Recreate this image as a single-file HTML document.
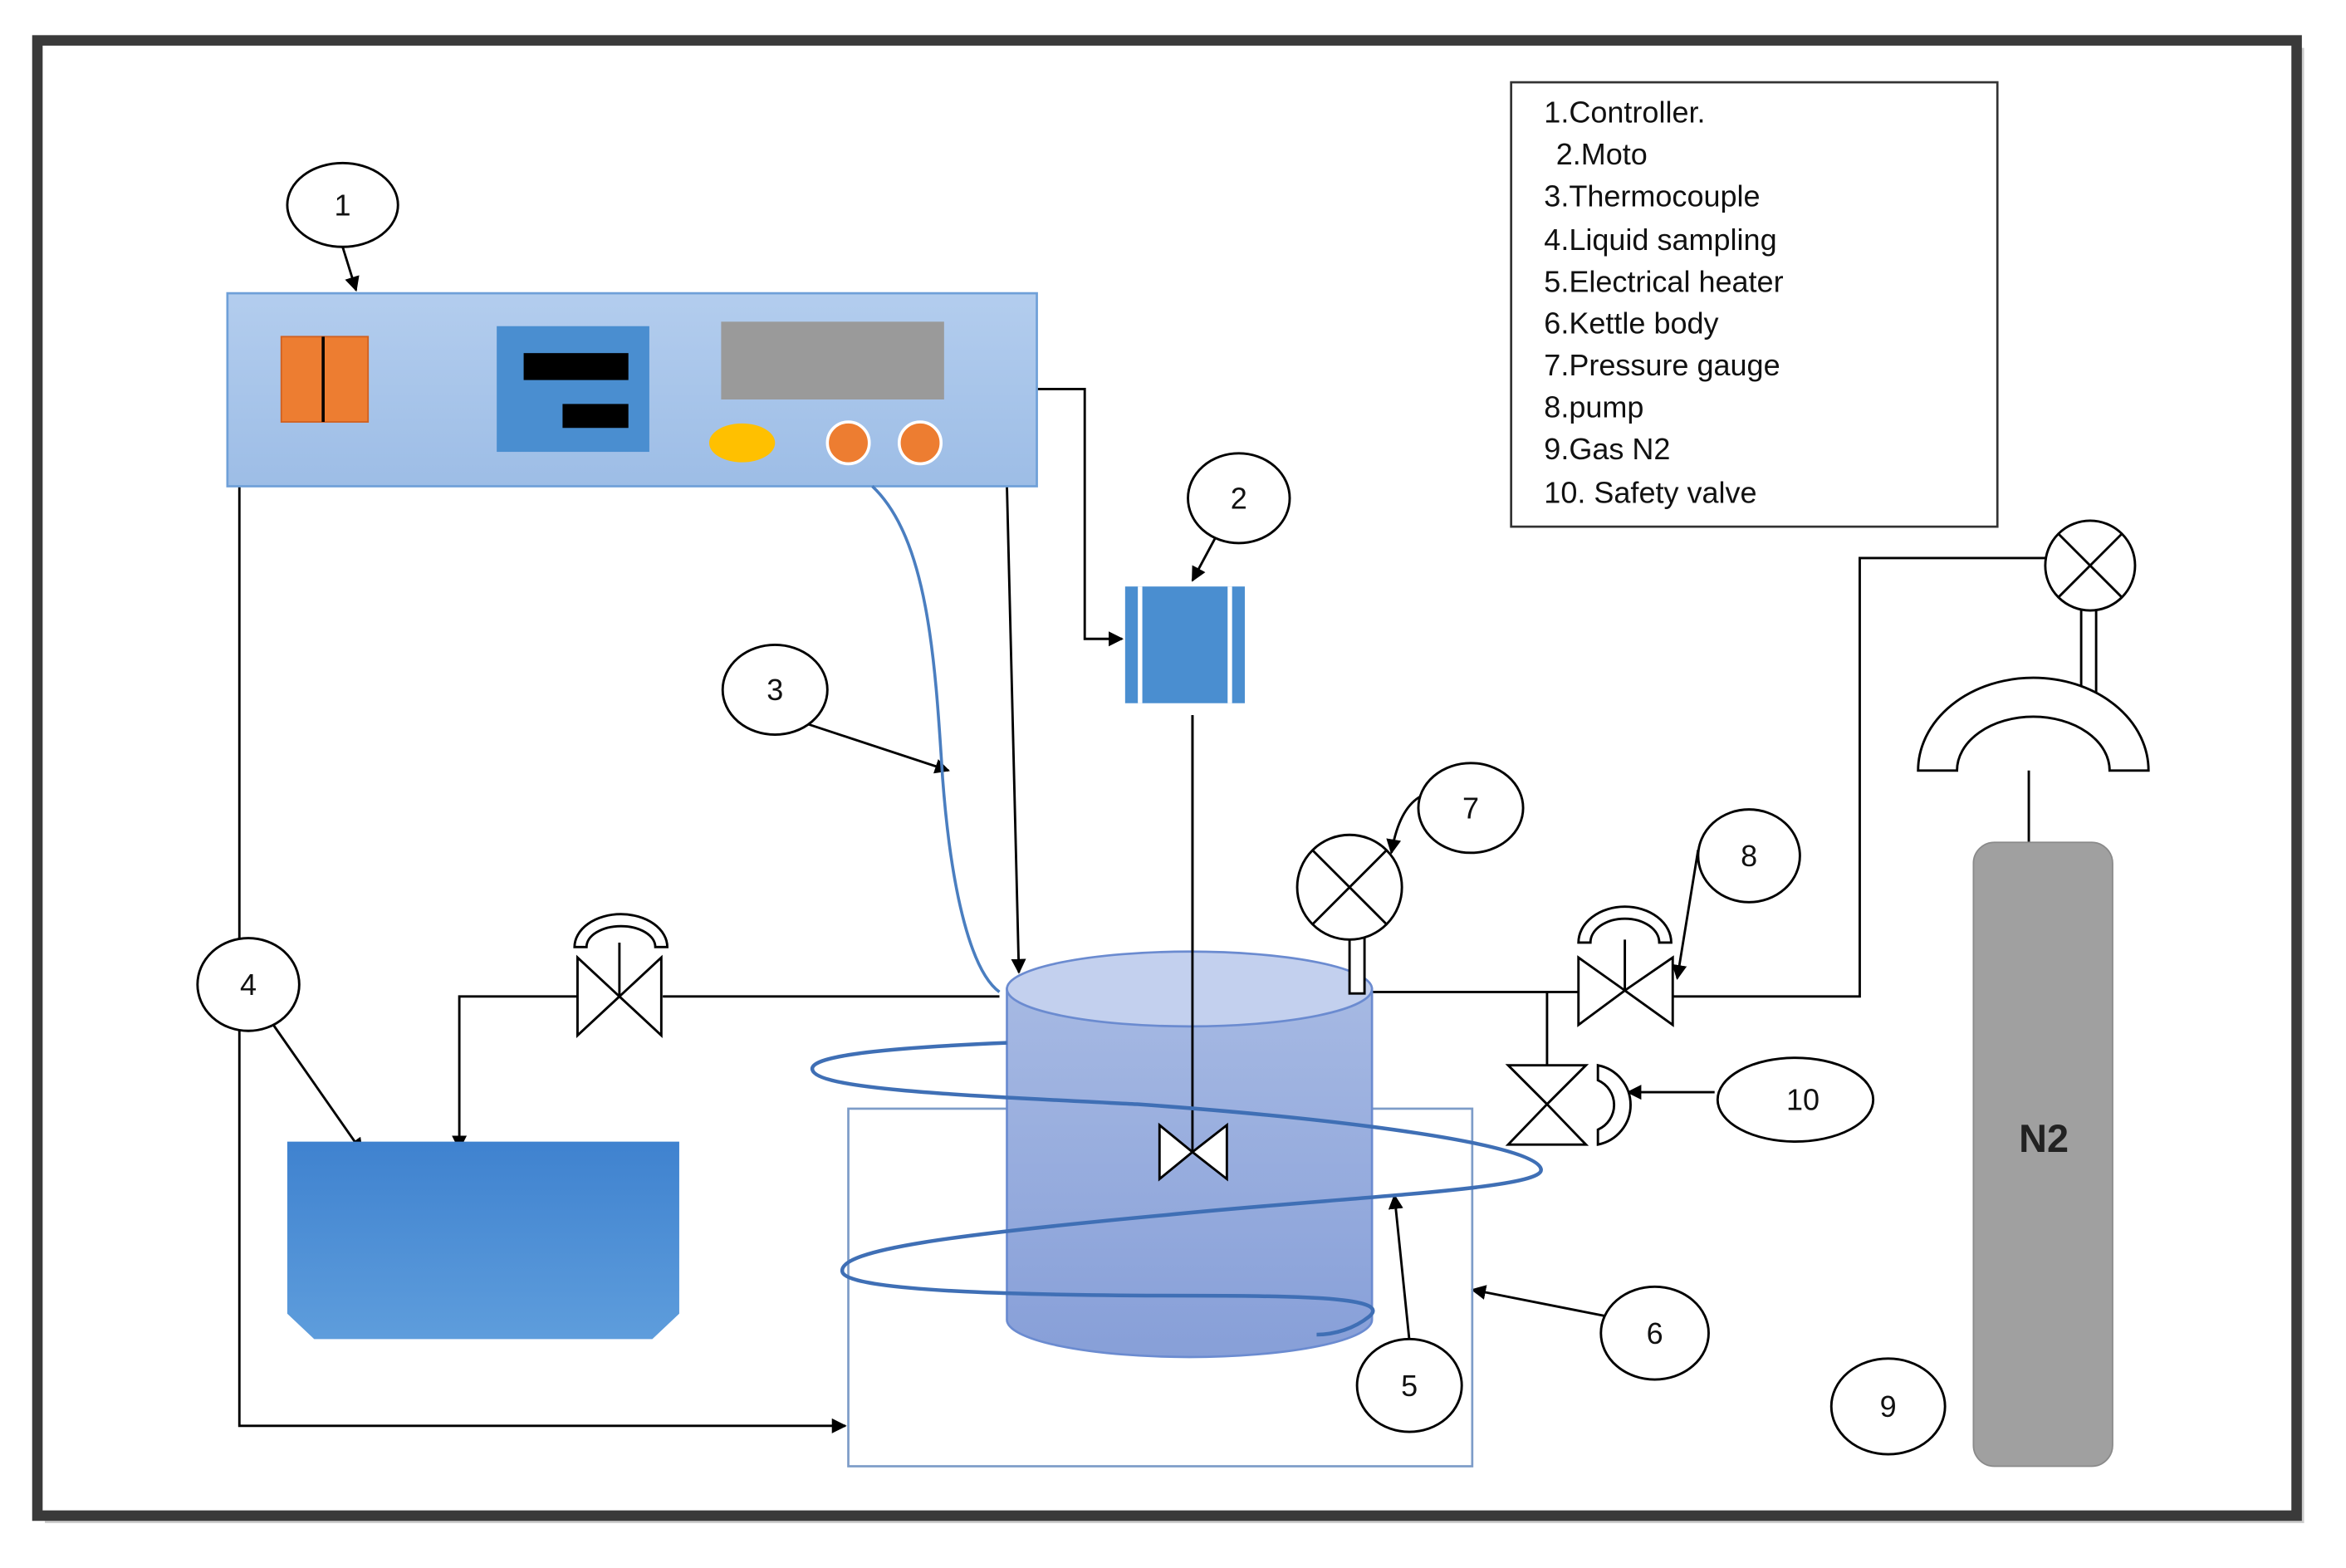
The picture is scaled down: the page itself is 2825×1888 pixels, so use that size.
<!DOCTYPE html>
<html><head><meta charset="utf-8"><style>html,body{margin:0;padding:0;background:#fff}svg{display:block}text{font-family:"Liberation Sans",sans-serif}</style></head>
<body>
<svg width="2825" height="1888" viewBox="0 0 1568 1048" preserveAspectRatio="none" xmlns="http://www.w3.org/2000/svg">
<defs>
<marker id="a" markerWidth="10" markerHeight="10" refX="9" refY="5" orient="auto" markerUnits="userSpaceOnUse"><path d="M0,0 L10,5 L0,10 z" fill="#000"/></marker>
<linearGradient id="cb" x1="0" y1="0" x2="0" y2="1"><stop offset="0" stop-color="#b3cdee"/><stop offset="1" stop-color="#9dbde6"/></linearGradient>
<linearGradient id="tk" x1="0" y1="0" x2="0" y2="1"><stop offset="0" stop-color="#3f82cf"/><stop offset="1" stop-color="#5e9ddc"/></linearGradient>
<linearGradient id="cy" x1="0" y1="0" x2="0" y2="1"><stop offset="0" stop-color="#a6b9e3"/><stop offset="1" stop-color="#879fd8"/></linearGradient>
</defs>
<rect x="0" y="0" width="1568" height="1048" fill="#fff"/>
<rect x="30" y="32" width="1510" height="986" fill="#ccc"/>
<rect x="25" y="27" width="1510" height="986" fill="#fff" stroke="#3a3a3a" stroke-width="7"/>
<rect x="1010" y="55" width="325" height="297" fill="#fff" stroke="#333" stroke-width="1.5"/>
<g font-size="20" fill="#111">
<text x="1032" y="82">1.Controller.</text>
<text x="1040" y="110">2.Moto</text>
<text x="1032" y="138">3.Thermocouple</text>
<text x="1032" y="167">4.Liquid sampling</text>
<text x="1032" y="195">5.Electrical heater</text>
<text x="1032" y="223">6.Kettle body</text>
<text x="1032" y="251">7.Pressure gauge</text>
<text x="1032" y="279">8.pump</text>
<text x="1032" y="307">9.Gas N2</text>
<text x="1032" y="336">10.  Safety valve</text>
</g>
<g stroke="#000" stroke-width="1.6" fill="none">
<path d="M693,260 H725 V427 H750" marker-end="url(#a)"/>
<path d="M673,325 L681,650" marker-end="url(#a)"/>
<path d="M160,325 V953 H565" marker-end="url(#a)"/>
<path d="M229,165 L238,194" marker-end="url(#a)"/>
<path d="M812,360 L797,388" marker-end="url(#a)"/>
<path d="M540,484 L634,515" marker-end="url(#a)"/>
<path d="M182,684 L242,770" marker-end="url(#a)"/>
<path d="M668,666 H443"/>
<path d="M386,666 H307 V768" marker-end="url(#a)"/>
<path d="M797,478 V770"/>
<path d="M942,896 L932,799" marker-end="url(#a)"/>
<path d="M1075,880 L984,862" marker-end="url(#a)"/>
<path d="M950,532 Q935,540 930,570" marker-end="url(#a)"/>
<path d="M1135,568 L1121,654" marker-end="url(#a)"/>
<path d="M1146,730 L1088,730" marker-end="url(#a)"/>
<path d="M912,663 H1055"/>
<path d="M1118,666 H1243 V373 H1368"/>
<path d="M1356,515 V563"/>
<path d="M1034,663 V712"/>
</g>
<rect x="152" y="196" width="541" height="129" fill="url(#cb)" stroke="#6fa0d8" stroke-width="1.5"/>
<rect x="188" y="225" width="58" height="57" fill="#ed7d31" stroke="#d06020"/>
<line x1="216" y1="225" x2="216" y2="282" stroke="#000" stroke-width="2"/>
<rect x="332" y="218" width="102" height="84" fill="#4a8ed0"/>
<rect x="350" y="236" width="70" height="18" fill="#000"/>
<rect x="376" y="270" width="44" height="16" fill="#000"/>
<rect x="482" y="215" width="149" height="52" fill="#9a9a9a"/>
<ellipse cx="496" cy="296" rx="22" ry="13" fill="#ffc000"/>
<circle cx="567" cy="296" r="14" fill="#ed7d31" stroke="#fff" stroke-width="2"/>
<circle cx="615" cy="296" r="14" fill="#ed7d31" stroke="#fff" stroke-width="2"/>
<path d="M583,325 C620,360 625,440 630,520 C636,600 650,650 668,663" stroke="#4a7ec0" stroke-width="2" fill="none"/>
<rect x="752" y="392" width="80" height="78" fill="#4a8ed0"/>
<line x1="762" y1="392" x2="762" y2="470" stroke="#fff" stroke-width="3"/>
<line x1="822" y1="392" x2="822" y2="470" stroke="#fff" stroke-width="3"/>
<polygon points="192,763 454,763 454,878 436,895 210,895 192,878" fill="url(#tk)"/>
<rect x="567" y="741" width="417" height="239" fill="none" stroke="#7d9cc8" stroke-width="1.5"/>
<path d="M673,661 V882 A122,25 0 0 0 917,882 V661 Z" fill="url(#cy)" stroke="#6b8bd0" stroke-width="1.5"/>
<ellipse cx="795" cy="661" rx="122" ry="25" fill="#c3d0ee" stroke="#6b8bd0" stroke-width="1.5"/>
<line x1="797" y1="478" x2="797" y2="770" stroke="#000" stroke-width="1.6"/>
<path d="M775,752 L797,770 L775,788 Z M820,752 L797,770 L820,788 Z" fill="#fff" stroke="#000" stroke-width="1.6"/>
<path d="M673,697 C600,700 540,705 543,715 C546,728 640,732 760,738 C900,748 1030,765 1030,782 C1030,795 900,800 780,812 C640,825 560,835 563,850 C566,864 700,866 800,866 C880,866 930,868 915,880 C905,888 892,892 880,892" stroke="#3f6fb5" stroke-width="2.5" fill="none"/>
<g stroke="#000" stroke-width="1.6" fill="#fff">
<line x1="414" y1="666" x2="414" y2="630"/>
<path d="M384,633 A31,22 0 0 1 446,633 L438,633 A23,14 0 0 0 392,633 Z"/>
<path d="M386,640 L414,666 L386,692 Z M442,640 L414,666 L442,692 Z"/>
<rect x="902" y="626" width="10" height="38"/>
<circle cx="902" cy="593" r="35"/>
<path d="M877,568 L927,618 M927,568 L877,618" fill="none"/>
<line x1="1086" y1="662" x2="1086" y2="628"/>
<path d="M1055,630 A31,24 0 0 1 1117,630 L1109,630 A23,16 0 0 0 1063,630 Z"/>
<path d="M1055,640 L1086,662 L1055,685 Z M1118,640 L1086,662 L1118,685 Z"/>
<path d="M1008,712 L1060,712 L1034,738 Z M1008,765 L1060,765 L1034,738 Z"/>
<path d="M1068,712 A27,27 0 0 1 1068,765 L1068,755 A18,18 0 0 0 1068,722 Z"/>
<rect x="1391" y="406" width="10" height="70"/>
<circle cx="1397" cy="378" r="30"/>
<path d="M1376,357 L1418,399 M1418,357 L1376,399" fill="none"/>
<path d="M1282,515 A77,62 0 0 1 1436,515 L1410,515 A51,36 0 0 0 1308,515 Z"/>
<ellipse cx="229" cy="137" rx="37" ry="28"/>
<ellipse cx="828" cy="333" rx="34" ry="30"/>
<ellipse cx="518" cy="461" rx="35" ry="30"/>
<ellipse cx="166" cy="658" rx="34" ry="31"/>
<ellipse cx="983" cy="540" rx="35" ry="30"/>
<ellipse cx="1169" cy="572" rx="34" ry="31"/>
<ellipse cx="1200" cy="735" rx="52" ry="28"/>
<ellipse cx="1106" cy="891" rx="36" ry="31"/>
<ellipse cx="942" cy="926" rx="35" ry="31"/>
<ellipse cx="1262" cy="940" rx="38" ry="32"/>
</g>
<g font-size="20" text-anchor="middle" fill="#111">
<text x="229" y="144">1</text><text x="828" y="340">2</text><text x="518" y="468">3</text>
<text x="166" y="665">4</text><text x="983" y="547">7</text><text x="1169" y="579">8</text>
<text x="1205" y="742">10</text><text x="1106" y="898">6</text><text x="942" y="933">5</text>
<text x="1262" y="947">9</text>
</g>
<rect x="1319" y="563" width="93" height="417" rx="14" fill="#a0a0a0" stroke="#8a8a8a"/>
<text x="1366" y="770" font-size="26" font-weight="bold" text-anchor="middle" fill="#222">N2</text>
</svg>
</body></html>
